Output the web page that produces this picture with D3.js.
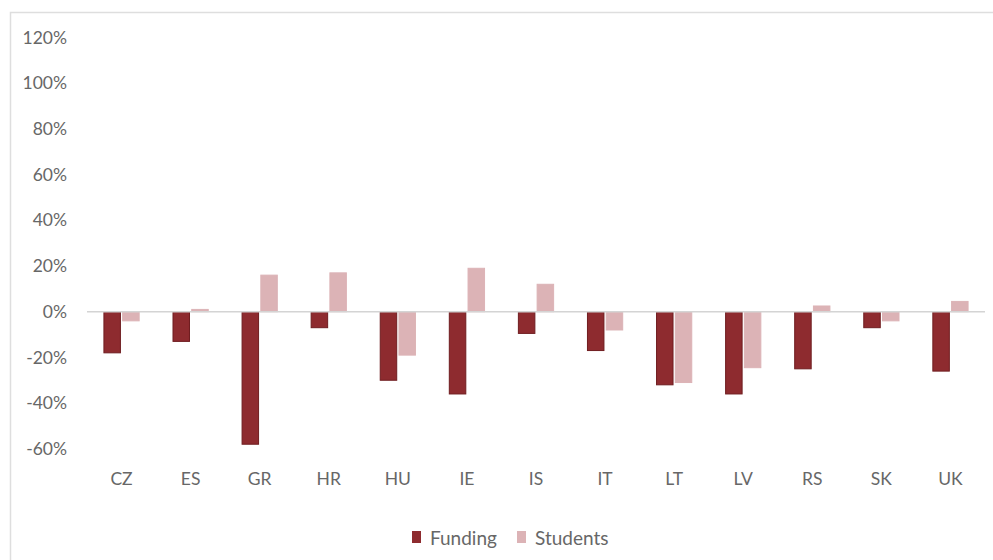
<!DOCTYPE html>
<html>
<head>
<meta charset="utf-8">
<script src="https://cdn.jsdelivr.net/npm/d3@7"></script>
<style>
  html, body { margin: 0; padding: 0; background: #ffffff; }
  svg { display: block; }
</style>
</head>
<body>
<svg id="chart" width="993" height="560"></svg>
<script>
const categories = ["CZ", "ES", "GR", "HR", "HU", "IE", "IS", "IT", "LT", "LV", "RS", "SK", "UK"];
const seriesNames = ["Funding", "Students"];
const funding  = [-18, -13, -58, -7, -30, -36, -9.5, -17, -32, -36, -25, -7, -26];
const students = [-4, 1, 16, 17, -19, 19, 12, -8, -31, -24.5, 2.5, -4, 4.5];
const yTicks = [-60, -40, -20, 0, 20, 40, 60, 80, 100, 120];

const colors = { Funding: "#8e2b2f", Students: "#dcb3b6" };
const strokes = { Funding: "#6f1d20", Students: "#dcb3b6" };

const svg = d3.select("#chart");
const W = 993, H = 560;

// outer chart frame
svg.append("rect")
  .attr("x", 10.5).attr("y", 12.5)
  .attr("width", W + 10).attr("height", H + 10)
  .attr("fill", "#ffffff")
  .attr("stroke", "#dedede").attr("stroke-width", 1.5);

const y = d3.scaleLinear().domain([-60, 120]).range([448.8, 37.5]);
const x0 = d3.scaleBand().domain(categories).range([87, 985])
  .paddingInner(0.49).paddingOuter(0.245);
const x1 = d3.scaleBand().domain(seriesNames).range([0, x0.bandwidth()]).paddingInner(0.12);

const font = "Lato, 'Open Sans', sans-serif";
const textColor = "#676767";

// y axis labels
const yAxis = d3.axisLeft(y).tickValues(yTicks).tickSize(0).tickPadding(0)
  .tickFormat(d => d + "%");
const gy = svg.append("g").attr("transform", "translate(67,0)").call(yAxis);
gy.select(".domain").remove();
gy.selectAll("text").attr("font-family", font).attr("font-size", 17.5)
  .attr("fill", textColor).attr("text-anchor", "end");

// bars
const data = categories.map((c, i) => ({ cat: c, vals: [
  { key: "Funding", v: funding[i] },
  { key: "Students", v: students[i] }
]}));

const groups = svg.append("g").selectAll("g").data(data).join("g")
  .attr("transform", d => `translate(${x0(d.cat)},0)`);
groups.selectAll("rect").data(d => d.vals).join("rect")
  .attr("x", d => x1(d.key))
  .attr("width", x1.bandwidth())
  .attr("y", d => y(Math.max(0, d.v)))
  .attr("height", d => Math.abs(y(d.v) - y(0)))
  .attr("fill", d => colors[d.key])
  .attr("stroke", d => strokes[d.key])
  .attr("stroke-width", 1);

// zero line
svg.append("line")
  .attr("x1", 87).attr("x2", 985)
  .attr("y1", y(0)).attr("y2", y(0))
  .attr("stroke", "#d4d4d4").attr("stroke-width", 1.5);

// category labels
const xAxis = d3.axisBottom(x0).tickSize(0).tickPadding(0);
const gx = svg.append("g").attr("transform", "translate(0,473)").call(xAxis);
gx.select(".domain").remove();
gx.selectAll("text").attr("font-family", font).attr("font-size", 17.5)
  .attr("fill", textColor);

// legend
const legend = svg.append("g");
const legendItems = [
  { key: "Funding", sx: 412, tx: 430 },
  { key: "Students", sx: 517, tx: 535 }
];
legendItems.forEach(it => {
  legend.append("rect").attr("x", it.sx).attr("y", 531).attr("width", 9).attr("height", 12)
    .attr("fill", colors[it.key]);
  legend.append("text").attr("x", it.tx).attr("y", 537)
    .attr("dominant-baseline", "central")
    .attr("font-family", font).attr("font-size", 19).attr("fill", textColor)
    .text(it.key);
});
</script>
</body>
</html>
